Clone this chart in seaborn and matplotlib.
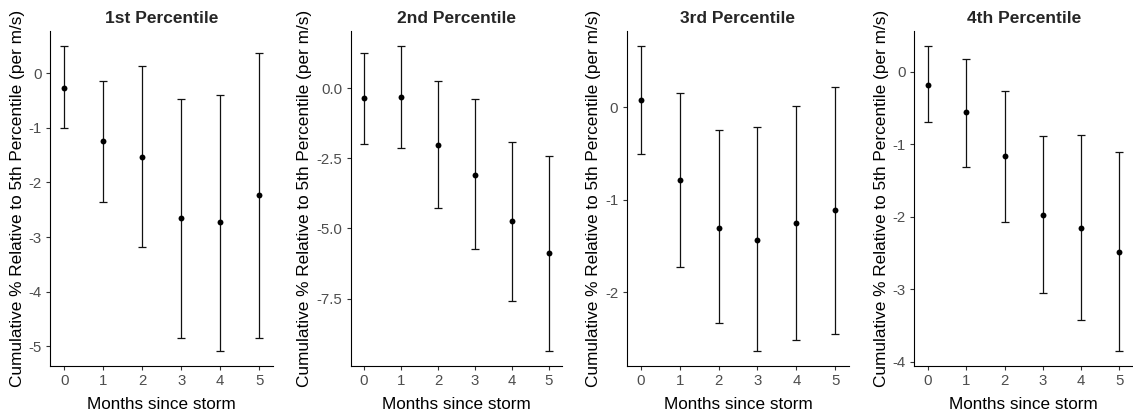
import matplotlib
matplotlib.use("Agg")
import matplotlib.pyplot as plt
import seaborn as sns
import numpy as np
import pandas as pd

months = [0, 1, 2, 3, 4, 5]
titles = ["1st Percentile", "2nd Percentile", "3rd Percentile", "4th Percentile"]

p1_est = [-0.27, -1.24, -1.53, -2.65, -2.73, -2.24]
p1_lo = [-1.01, -2.35, -3.18, -4.84, -5.08, -4.84]
p1_hi = [0.49, -0.14, 0.12, -0.47, -0.41, 0.36]

p2_est = [-0.35, -0.32, -2.02, -3.08, -4.72, -5.88]
p2_lo = [-2.00, -2.15, -4.28, -5.75, -7.59, -9.36]
p2_hi = [1.25, 1.49, 0.24, -0.38, -1.91, -2.41]

p3_est = [0.08, -0.79, -1.30, -1.43, -1.25, -1.11]
p3_lo = [-0.50, -1.73, -2.33, -2.63, -2.51, -2.45]
p3_hi = [0.66, 0.15, -0.25, -0.21, 0.01, 0.22]

p4_est = [-0.18, -0.56, -1.17, -1.98, -2.15, -2.49]
p4_lo = [-0.70, -1.32, -2.07, -3.05, -3.42, -3.85]
p4_hi = [0.35, 0.18, -0.27, -0.89, -0.88, -1.11]

panels = [
    (p1_est, p1_lo, p1_hi, [0, -1, -2, -3, -4, -5], ["0", "-1", "-2", "-3", "-4", "-5"]),
    (p2_est, p2_lo, p2_hi, [0, -2.5, -5, -7.5], ["0.0", "-2.5", "-5.0", "-7.5"]),
    (p3_est, p3_lo, p3_hi, [0, -1, -2], ["0", "-1", "-2"]),
    (p4_est, p4_lo, p4_hi, [0, -1, -2, -3, -4], ["0", "-1", "-2", "-3", "-4"]),
]

sns.set_theme(style="ticks")
plt.rcParams["font.family"] = ["Liberation Sans", "DejaVu Sans"]

W, H = 1133, 418
fig = plt.figure(figsize=(W / 100, H / 100), dpi=100)

# axes boxes in pixels: left, right
boxes = [(50.3, 273.3), (350.7, 562.3), (626.7, 849.3), (914.3, 1133.0)]
top_px, bot_px = 31.0, 366.0

for (est, lo, hi, yt, ytl), title, (l, r) in zip(panels, titles, boxes):
    ax = fig.add_axes([l / W, 1 - bot_px / H, (r - l) / W, (bot_px - top_px) / H])
    df = pd.DataFrame({"month": months, "est": est, "lo": lo, "hi": hi})
    yerr = np.vstack([df["est"] - df["lo"], df["hi"] - df["est"]])
    ax.errorbar(df["month"], df["est"], yerr=yerr, fmt="none", ecolor="#111111",
                elinewidth=0.9, capsize=3.2, capthick=0.9, zorder=1)
    sns.scatterplot(data=df, x="month", y="est", ax=ax, color="black", s=18,
                    edgecolor="black", linewidth=0, zorder=2)
    ymin = min(lo); ymax = max(hi)
    pad = 0.05 * (ymax - ymin)
    ax.set_ylim(ymin - pad, ymax + pad)
    ax.set_xlim(-0.36, 5.36)
    ax.set_xticks(months)
    ax.set_xticklabels([str(m) for m in months])
    ax.set_yticks(yt)
    ax.set_yticklabels(ytl)
    ax.tick_params(axis="both", labelsize=10.8, labelcolor="#4D4D4D", color="#333333",
                   length=3, width=0.8, pad=3)
    for s in ["top", "right"]:
        ax.spines[s].set_visible(False)
    for s in ["left", "bottom"]:
        ax.spines[s].set_color("black")
        ax.spines[s].set_linewidth(0.8)
    ax.set_xlabel("Months since storm", fontsize=12.3, color="black", labelpad=6)
    ax.set_ylabel("Cumulative % Relative to 5th Percentile (per m/s)", fontsize=12.4,
                  color="black", labelpad=3)
    ax.set_title(title, fontsize=12.5, fontweight="bold", pad=6)

fig.savefig("out.png", dpi=100)
